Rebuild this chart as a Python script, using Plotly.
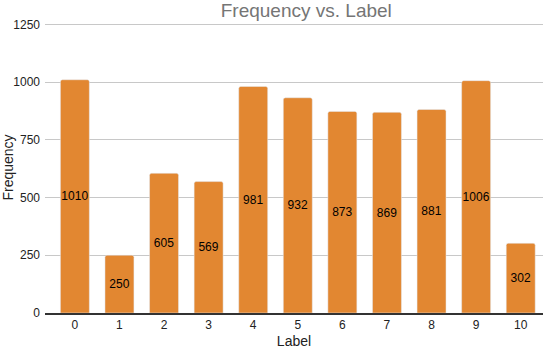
import plotly.graph_objects as go

# -- datos
labels = ["0", "1", "2", "3", "4", "5", "6", "7", "8", "9", "10"]
frequency = [1010, 250, 605, 569, 981, 932, 873, 869, 881, 1006, 302]

fig = go.Figure()
fig.add_trace(go.Bar(x=labels, y=frequency, text=frequency,
                     textposition="inside", insidetextanchor="middle", textangle=0,
                     textfont=dict(color="black", size=12),
                     marker=dict(color="#e28731", cornerradius=2),
                     width=0.65))

fig.update_layout(
    width=545, height=349,
    margin=dict(l=45, r=2, t=22, b=36),
    plot_bgcolor="white", paper_bgcolor="white",
    font=dict(family="Arial, Liberation Sans", size=12, color="#222"),
    title=dict(text="Frequency vs. Label", x=0.562, xanchor="center", y=0.988, yanchor="top",
               font=dict(size=19, color="#757575")),
    uniformtext=dict(minsize=12, mode="show"),
    showlegend=False,
)
fig.update_xaxes(type="category", range=[-0.67, 10.5], title=dict(text="Label", standoff=6), ticks="",
                 showline=True, linecolor="#333", linewidth=1.5, tickfont=dict(size=12),
                 automargin=False)
# rango un poco mayor a 1250 para que se dibuje la linea de 1250
fig.update_yaxes(range=[0, 1260], tickvals=[0, 250, 500, 750, 1000, 1250],
                 title=dict(text="Frequency", standoff=10), gridcolor="#c8c8c8",
                 ticklabelstandoff=4, zeroline=False, tickfont=dict(size=12), automargin=False)

# sin margen del body para que la figura quede en la esquina
fig.write_html("out.html", config={"displayModeBar": False},
               post_script="document.body.style.margin='0';")
